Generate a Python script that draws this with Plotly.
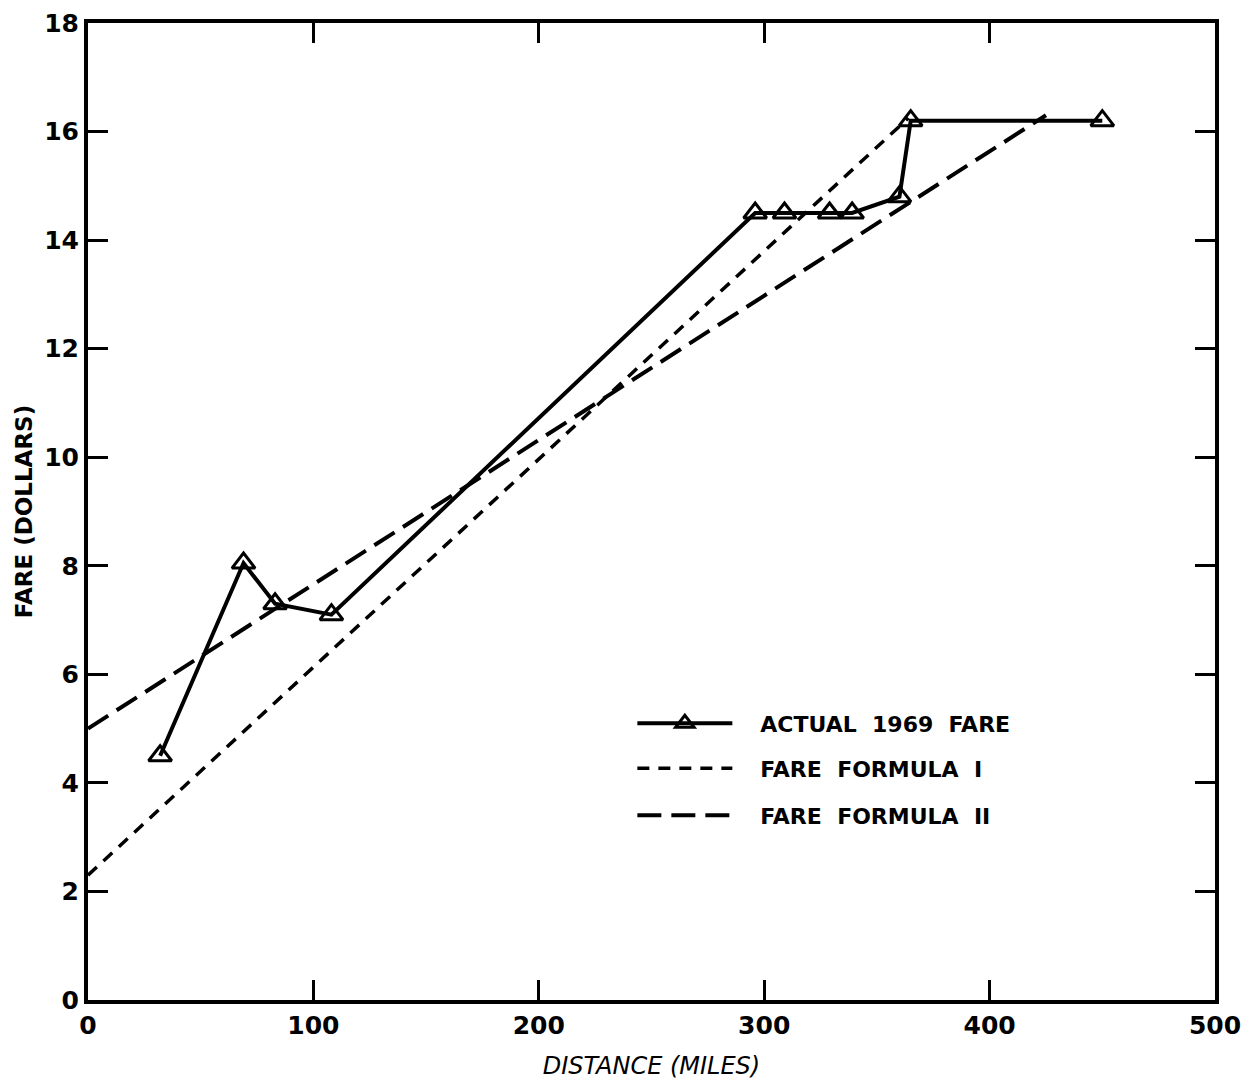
import plotly.graph_objects as go

# Data
actual_x = [32, 69, 83, 108, 296, 309, 329, 339, 360, 365, 450]
actual_y = [4.5, 8.05, 7.3, 7.1, 14.5, 14.5, 14.5, 14.5, 14.8, 16.2, 16.2]

formula1_x = [0, 364]
formula1_y = [2.3, 16.25]

formula2_x = [0, 425]
formula2_y = [5.0, 16.3]

x_ticks = [0, 100, 200, 300, 400, 500]
y_ticks = [0, 2, 4, 6, 8, 10, 12, 14, 16, 18]

FONT = "DejaVu Sans"
NB = "\u00a0"

fig = go.Figure()
fig.add_trace(go.Scatter(
    x=actual_x, y=actual_y, mode="lines+markers",
    name=NB * 3 + "ACTUAL" + NB * 2 + "1969" + NB * 2 + "FARE",
    line=dict(color="black", width=4),
    marker=dict(symbol="triangle-up-open", size=20, color="black", line=dict(width=3)),
    legend="legend",
))
fig.add_trace(go.Scatter(
    x=formula1_x, y=formula1_y, mode="lines",
    name=NB * 3 + "FARE" + NB * 2 + "FORMULA" + NB * 2 + "I",
    line=dict(color="black", width=3.5, dash="12px,9px"),
    legend="legend2",
))
fig.add_trace(go.Scatter(
    x=formula2_x, y=formula2_y, mode="lines",
    name=NB * 3 + "FARE" + NB * 2 + "FORMULA" + NB * 2 + "II",
    line=dict(color="black", width=4, dash="24px,10px"),
    legend="legend3",
))

axis_common = dict(
    showline=True, linecolor="black", linewidth=4, mirror="allticks",
    ticks="inside", ticklen=20, tickwidth=2.5, tickcolor="black",
    showgrid=False, zeroline=False, automargin=False,
    tickfont=dict(family=FONT, size=25, color="black", weight="bold"),
)

fig.update_xaxes(
    range=[0, 500], tickvals=x_ticks, ticktext=[str(v) for v in x_ticks],
    title=dict(text="DISTANCE (MILES)",
               font=dict(family=FONT, size=24, color="black", style="italic"), standoff=19),
    **axis_common,
)
fig.update_yaxes(
    range=[0, 18], tickvals=y_ticks, ticktext=[str(v) for v in y_ticks],
    title=dict(text="FARE (DOLLARS)", font=dict(family=FONT, size=23, color="black", weight="bold"),
               standoff=6),
    **axis_common,
)

def leg(y):
    return dict(
        x=0.483, y=y, xanchor="left", yanchor="middle",
        bgcolor="rgba(0,0,0,0)", borderwidth=0,
        font=dict(family=FONT, size=22, color="black", weight="bold"),
        itemwidth=95,
    )

fig.update_layout(
    width=1247, height=1085,
    margin=dict(l=88, r=32, t=23, b=85),
    paper_bgcolor="white", plot_bgcolor="white",
    showlegend=True,
    legend=leg(0.283),
    legend2=leg(0.237),
    legend3=leg(0.189),
)

fig.write_html("out.html")
